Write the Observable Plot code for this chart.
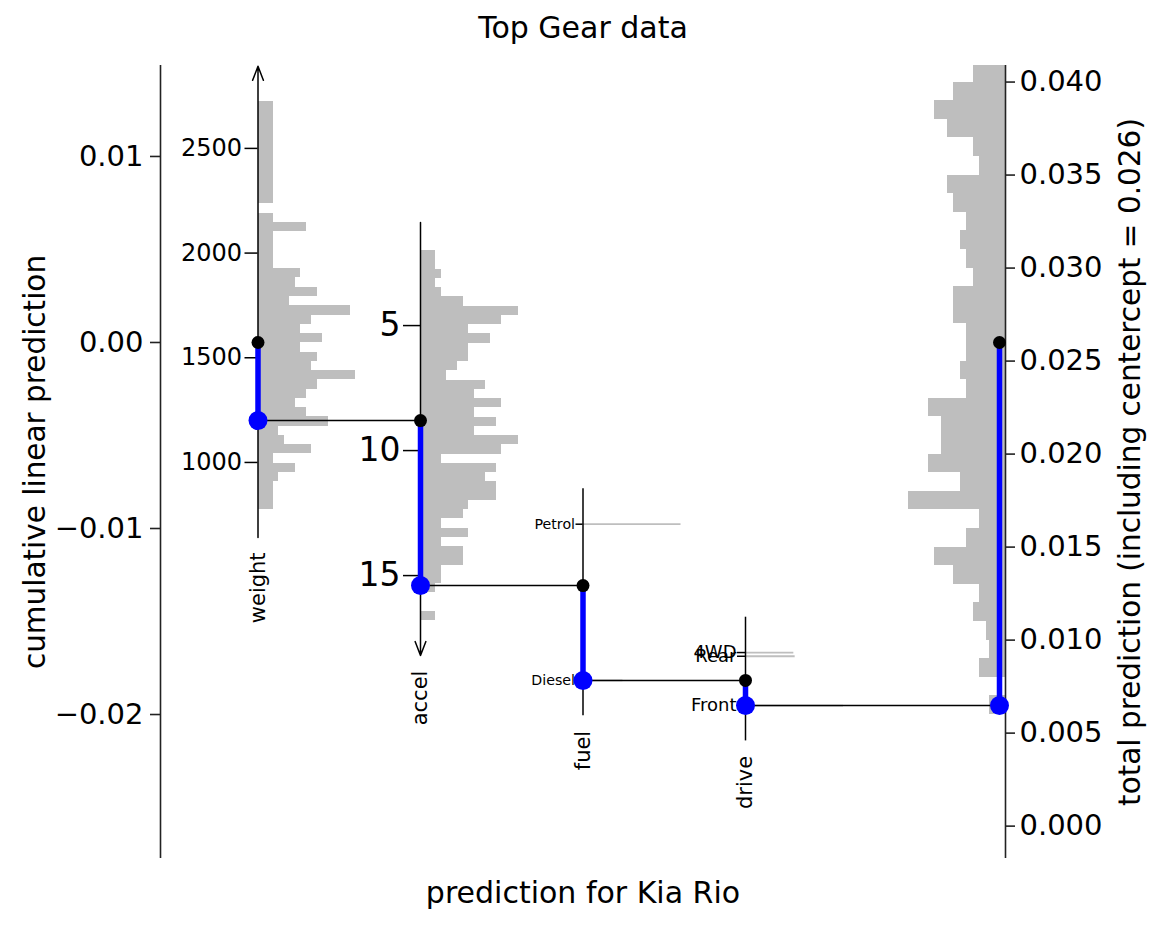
<!DOCTYPE html>
<html><head><meta charset="utf-8">
<script src="https://cdn.jsdelivr.net/npm/d3@7"></script>
<script src="https://cdn.jsdelivr.net/npm/@observablehq/plot@0.6"></script>
<style>body{margin:0;background:#fff;}</style>
</head><body><div id="chart"></div>
<script>
// ---------- text ----------
const title = "Top Gear data";
const xLabel = "prediction for Kia Rio";
const yLabel = "cumulative linear prediction";
const y2Label = "total prediction (including centercept = 0.026)";
const centercept = 0.026;

// ---------- layout of columns (ordinal positions) ----------
const variables = ["weight", "accel", "fuel", "drive"];
const varPositions = [1, 2, 3, 4];
const leftAxisPosition = 0.4;
const totalPosition = 5.6;

// ---------- main axes ----------
const leftTicks = [-0.02, -0.01, 0, 0.01];
const rightTicks = [0, 0.005, 0.01, 0.015, 0.02, 0.025, 0.03, 0.035, 0.04];
const yDomain = [-0.02774, 0.01489];

// ---------- weight ----------
const weightCoef = 1.1255e-5;
const weightMean = 1573;
const weightValue = 1200;
const weightTicks = [1000, 1500, 2000, 2500];
const weightRange = [642, 2892];
const weightBinStart = 775;
const weightBinWidth = 44.25;
const weightCounts = [1,1,1,2,5,1,8,3,2,11,7,5,7,9,16,8,9,6,10,6,8,15,4,9,5,6,1,1,1,1,7,1,0,1,1,1,1,1,1,1,1,1,1,1];

// ---------- accel ----------
const accelCoef = -0.001344;
const accelMean = 8.8;
const accelValue = 15.4;
const accelTicks = [5, 10, 15];
const accelRange = [0.88, 18.2];
const accelBinStart = 2.0;
const accelBinWidth = 0.37;
const accelCounts = [1,1,2,1,2,6,16,13,7,11,7,7,5,3,10,8,13,8,12,8,16,13,2,12,10,12,12,7,6,2,7,2,6,6,2,2,1,0,0,1];

// ---------- fuel ----------
const fuelLevels = ["Petrol", "Diesel"];
const fuelEffects = [0.0033, -0.0051];
const fuelCounts = [211, 86];
const fuelValue = "Diesel";

// ---------- drive ----------
const driveLevels = ["4WD", "Rear", "Front"];
const driveEffects = [0.0015, 0.0013, -0.00135];
const driveCounts = [74, 76, 150];
const driveValue = "Front";

// ---------- total prediction histogram ----------
const totalBinStart = 0.006;
const totalBinWidth = 0.001;
const totalCounts = [2.5,0,4,2.5,3,5,4,8,11,6,4,15,7,12,10,10,12,6,7,6,6,8,8,5,6,7,6,8,9,4,5,9,11,8,5];

// ---------- styling constants ----------
const W = 1163, H = 929;
const mL = 160, mR = 158, mT = 65, mB = 71;
const pxU = (W - mL - mR) / (totalPosition - leftAxisPosition); // px per x unit
const histBase = 9.8, histStep = 5.5, totalStep = 6.45, levelMaxLen = 98;
const catPad = 0.0019;
const grey = "#bebebe";
const FONT = "DejaVu Sans, Verdana, sans-serif";
const bigFont = 29.5;

// ---------- cumulative path ----------
const [pW, pA, pF, pD] = varPositions;
const cum1 = weightCoef * (weightValue - weightMean);
const yW = w => weightCoef * (w - weightMean);
const yA = a => cum1 + accelCoef * (a - accelMean);
const cum2 = yA(accelValue);
const yF = l => cum2 + fuelEffects[fuelLevels.indexOf(l)];
const cum3 = yF(fuelValue);
const yD = l => cum3 + driveEffects[driveLevels.indexOf(l)];
const cum4 = yD(driveValue);
const rightDotX = totalPosition - 6 / pxU;

// ---------- derived mark data ----------
const histRects = [];
weightCounts.forEach((c, i) => {
  if (c > 0) histRects.push({x1: pW, x2: pW + (histBase + histStep * c) / pxU,
    y1: yW(weightBinStart + i * weightBinWidth), y2: yW(weightBinStart + (i + 1) * weightBinWidth)});
});
accelCounts.forEach((c, i) => {
  if (c > 0) histRects.push({x1: pA, x2: pA + (histBase + histStep * c) / pxU,
    y1: yA(accelBinStart + i * accelBinWidth), y2: yA(accelBinStart + (i + 1) * accelBinWidth)});
});
totalCounts.forEach((c, i) => {
  if (c > 0) histRects.push({x1: totalPosition - totalStep * c / pxU, x2: totalPosition,
    y1: totalBinStart + i * totalBinWidth - centercept, y2: totalBinStart + (i + 1) * totalBinWidth - centercept});
});

const fuelMax = d3.max(fuelCounts), driveMax = d3.max(driveCounts);
const levelLines = [
  ...fuelLevels.map((l, i) => ({x1: pF, x2: pF + levelMaxLen * fuelCounts[i] / fuelMax / pxU, y: yF(l)})),
  ...driveLevels.map((l, i) => ({x1: pD, x2: pD + levelMaxLen * driveCounts[i] / driveMax / pxU, y: yD(l)}))
];

const fuelExt = d3.extent(fuelLevels.map(yF));
const driveExt = d3.extent(driveLevels.map(yD));
const axisLines = [
  {x: pF, y1: fuelExt[0] - catPad, y2: fuelExt[1] + catPad},
  {x: pD, y1: driveExt[0] - catPad, y2: driveExt[1] + catPad}
];
const arrows = [
  {x: pW, y1: yW(weightRange[0]), y2: yW(weightRange[1])},
  {x: pA, y1: yA(accelRange[0]), y2: yA(accelRange[1])}
];

// sub-axis ticks
const tickGroups = [
  {fs: 24, gap: 16, items: weightTicks.map(t => ({x: pW, y: yW(t), label: String(t), len: 13}))},
  {fs: 33, gap: 20, items: accelTicks.map(t => ({x: pA, y: yA(t), label: String(t), len: 17}))},
  {fs: 14.2, gap: 8, items: fuelLevels.map(l => ({x: pF, y: yF(l), label: l, len: 7}))},
  {fs: 18, gap: 9, items: driveLevels.map(l => ({x: pD, y: yD(l), label: l, len: 8}))}
];
const ticks = tickGroups.flatMap(g => g.items);

const varLabels = [
  {x: pW, y: yW(weightRange[0]), name: variables[0]},
  {x: pA, y: yA(accelRange[1]), name: variables[1]},
  {x: pF, y: fuelExt[0] - catPad, name: variables[2]},
  {x: pD, y: driveExt[0] - catPad, name: variables[3]}
];

const blueSegs = [
  {x: pW, y1: 0, y2: cum1},
  {x: pA, y1: cum1, y2: cum2},
  {x: pF, y1: cum2, y2: cum3},
  {x: pD, y1: cum3, y2: cum4},
  {x: rightDotX, y1: 0, y2: cum4}
];
const connectors = [
  {x1: pW, x2: pA, y: cum1},
  {x1: pA, x2: pF, y: cum2},
  {x1: pF, x2: pD, y: cum3},
  {x1: pD, x2: rightDotX, y: cum4}
];
const blackDots = [
  {x: pW, y: 0}, {x: pA, y: cum1}, {x: pF, y: cum2}, {x: pD, y: cum3}, {x: rightDotX, y: 0}
];
const blueDots = [
  {x: pW, y: cum1}, {x: pA, y: cum2}, {x: pF, y: cum3}, {x: pD, y: cum4}, {x: rightDotX, y: cum4}
];

const chart = Plot.plot({
  width: W, height: H,
  marginLeft: mL, marginRight: mR, marginTop: mT, marginBottom: mB,
  style: {fontFamily: FONT, background: "white", color: "black"},
  x: {domain: [leftAxisPosition, totalPosition], axis: null},
  y: {domain: yDomain, axis: null},
  marks: [
    Plot.rect(histRects, {x1: "x1", x2: "x2", y1: "y1", y2: "y2", fill: grey, clip: "frame", shapeRendering: "crispEdges"}),
    Plot.ruleY(levelLines, {x1: "x1", x2: "x2", y: "y", stroke: grey, strokeWidth: 1.8}),
    // main axes
    Plot.ruleX([leftAxisPosition], {stroke: "#222", strokeWidth: 1.6}),
    Plot.ruleX([totalPosition], {stroke: "#222", strokeWidth: 1.6}),
    Plot.axisY({anchor: "left", ticks: leftTicks, tickFormat: d3.format(".2f"), tickSize: 10, tickPadding: 7,
      fontSize: 29, label: null, stroke: "#222", strokeWidth: 1.6}),
    Plot.axisY({anchor: "right", ticks: rightTicks.map(t => t - centercept),
      tickFormat: d => d3.format(".3f")(Math.round((d + centercept) * 1000) / 1000),
      tickSize: 9, tickPadding: 5, fontSize: 29, label: null, stroke: "#222", strokeWidth: 1.6}),
    // variable axes
    Plot.arrow(arrows, {x: "x", y1: "y1", y2: "y2", stroke: "black", strokeWidth: 1.5, headLength: 15, headAngle: 42}),
    Plot.ruleX(axisLines, {x: "x", y1: "y1", y2: "y2", stroke: "black", strokeWidth: 1.5}),
    Plot.ruleY(ticks, {x1: d => d.x - d.len / pxU, x2: "x", y: "y", stroke: "black", strokeWidth: 1.5}),
    ...tickGroups.map(g =>
      Plot.text(g.items, {x: "x", y: "y", text: "label", textAnchor: "end", lineAnchor: "middle",
        dx: -g.gap, fontSize: g.fs, fill: "black"})),
    Plot.text(varLabels, {x: "x", y: "y", text: "name", rotate: -90, textAnchor: "end", lineAnchor: "middle",
      dy: 15, fontSize: 21, fill: "black"}),
    // path
    Plot.ruleY(connectors, {x1: "x1", x2: "x2", y: "y", stroke: "black", strokeWidth: 1.5}),
    Plot.ruleX(blueSegs, {x: "x", y1: "y1", y2: "y2", stroke: "blue", strokeWidth: 5.5}),
    Plot.dot(blackDots, {x: "x", y: "y", r: 6.5, fill: "black"}),
    Plot.dot(blueDots, {x: "x", y: "y", r: 9.5, fill: "blue"}),
    // titles
    Plot.text([title], {frameAnchor: "top", dy: -37, lineAnchor: "middle", textAnchor: "middle", fontSize: 30, fill: "black"}),
    Plot.text([xLabel], {frameAnchor: "bottom", dy: 35, lineAnchor: "middle", textAnchor: "middle", fontSize: 30, fill: "black"}),
    Plot.text([yLabel], {frameAnchor: "left", dx: -125, rotate: -90, lineAnchor: "middle", textAnchor: "middle", fontSize: bigFont, fill: "black"}),
    Plot.text([y2Label], {frameAnchor: "right", dx: 125, rotate: -90, lineAnchor: "middle", textAnchor: "middle", fontSize: bigFont, fill: "black"})
  ]
});
document.getElementById("chart").appendChild(chart);
</script>
</body></html>
